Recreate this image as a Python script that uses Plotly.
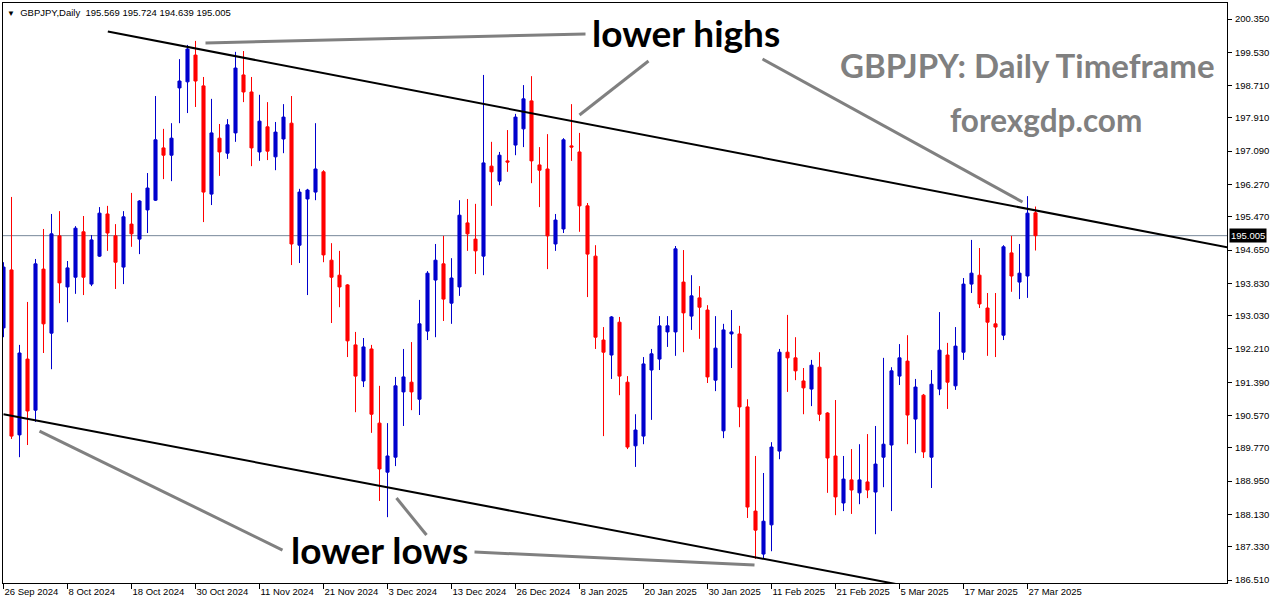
import plotly.graph_objects as go
import pandas as pd

# ---- data -------------------------------------------------------------
holidays = ["2024-12-25", "2025-01-01"]
dates = [d for d in pd.bdate_range("2024-09-26", "2025-03-28") if d.strftime("%Y-%m-%d") not in holidays]

opens = [192.73, 194.16, 190.09, 191.96, 190.70, 194.18, 192.60, 195.00, 193.74, 193.98,
         195.10, 193.81, 194.50, 195.54, 195.00, 194.23, 195.29, 194.92, 195.64, 195.88,
         197.17, 196.99, 198.65, 198.80, 199.46, 198.70, 196.03, 197.41, 197.04, 197.54,
         198.97, 198.55, 197.07, 197.69, 196.95, 197.39, 197.78, 194.77, 195.91, 196.08,
         196.58, 194.40, 194.03, 193.79, 192.31, 191.42, 192.21, 190.38, 189.17, 189.54,
         191.15, 191.39, 190.97, 192.65, 193.91, 194.31, 193.34, 193.74, 195.32, 194.92,
         194.50, 196.72, 196.35, 196.85, 197.24, 197.64, 198.33, 196.75, 196.65, 194.80,
         195.17, 197.22, 197.07, 195.74, 194.50, 192.43, 192.06, 192.87, 191.39, 189.82,
         190.06, 191.69, 191.96, 192.63, 192.63, 193.86, 193.02, 193.47, 193.17, 191.44,
         190.19, 192.58, 192.58, 190.78, 188.21, 187.15, 187.87, 189.69, 192.13, 191.99,
         191.42, 191.22, 191.76, 190.63, 189.57, 188.41, 188.98, 188.66, 188.93, 188.68,
         189.54, 189.84, 191.54, 191.91, 190.48, 191.07, 189.54, 191.22, 192.06, 191.30,
         192.13, 193.81, 194.03, 193.22, 192.83, 192.55, 194.58, 193.86, 194.01, 195.569]
highs = [194.35, 195.96, 192.31, 193.37, 194.43, 195.17, 195.54, 195.61, 194.38, 195.24,
         195.49, 195.02, 195.71, 195.74, 195.29, 195.61, 196.06, 195.88, 196.55, 198.45,
         197.64, 197.78, 199.36, 199.71, 199.81, 198.92, 198.38, 197.76, 197.88, 199.54,
         199.56, 198.92, 198.48, 198.30, 197.81, 198.25, 198.45, 196.16, 196.16, 197.78,
         196.62, 194.82, 194.63, 193.81, 192.63, 192.48, 192.31, 191.30, 190.38, 191.52,
         192.21, 192.38, 193.42, 194.13, 194.80, 195.00, 194.45, 195.88, 195.91, 195.79,
         198.97, 197.32, 197.07, 197.61, 198.01, 198.72, 198.94, 197.19, 197.51, 195.54,
         197.41, 198.25, 197.54, 195.81, 194.77, 192.75, 193.02, 193.00, 191.54, 190.60,
         192.01, 192.21, 193.02, 193.02, 194.75, 194.65, 194.03, 193.76, 193.29, 193.02,
         192.83, 193.17, 192.78, 190.97, 189.57, 189.15, 189.91, 192.21, 193.05, 192.50,
         191.74, 191.94, 192.13, 190.65, 190.95, 189.57, 189.74, 189.86, 190.11, 190.31,
         191.99, 191.76, 192.33, 192.55, 191.47, 191.10, 191.69, 193.12, 192.36, 192.75,
         193.96, 194.90, 194.70, 193.59, 193.59, 194.77, 195.00, 194.80, 195.98, 195.724]
lows = [192.50, 189.99, 189.54, 189.84, 190.41, 192.11, 191.71, 193.34, 192.87, 193.57,
        193.54, 193.76, 194.48, 194.63, 193.69, 193.81, 194.73, 194.55, 195.07, 195.86,
        196.40, 196.35, 197.78, 198.03, 198.18, 195.34, 195.76, 196.48, 196.90, 197.32,
        198.30, 196.72, 196.85, 196.87, 196.62, 197.04, 194.28, 194.33, 193.54, 195.88,
        194.35, 192.85, 193.24, 192.01, 190.65, 191.27, 190.14, 188.46, 188.06, 189.32,
        190.31, 190.70, 190.58, 192.43, 192.50, 192.90, 192.83, 193.52, 194.63, 194.06,
        194.03, 195.74, 196.25, 196.58, 196.99, 197.19, 196.30, 195.71, 194.18, 194.63,
        195.07, 196.85, 195.10, 193.49, 192.21, 190.06, 191.47, 191.07, 189.74, 189.30,
        189.86, 190.46, 191.69, 192.26, 192.04, 192.13, 192.68, 192.46, 191.37, 191.17,
        190.01, 191.74, 190.28, 188.04, 187.03, 187.03, 187.22, 189.49, 191.15, 191.44,
        190.60, 190.80, 190.43, 188.66, 188.11, 188.21, 188.14, 188.38, 188.53, 187.64,
        188.80, 188.21, 191.32, 189.86, 189.64, 189.52, 188.78, 191.07, 190.73, 191.20,
        191.94, 193.59, 193.22, 192.04, 192.01, 192.43, 193.62, 193.44, 193.47, 194.639]
closes = [194.23, 190.06, 192.11, 190.68, 194.31, 192.83, 195.05, 193.84, 194.21, 195.19,
          193.98, 194.90, 195.56, 195.07, 194.35, 195.47, 195.05, 195.86, 196.18, 197.37,
          196.99, 197.41, 198.82, 199.61, 198.82, 196.08, 197.54, 197.07, 197.74, 199.14,
          198.55, 197.17, 197.83, 197.09, 197.56, 197.93, 194.80, 196.08, 196.13, 196.65,
          194.53, 193.98, 193.74, 192.41, 191.54, 192.26, 190.60, 189.25, 189.57, 191.30,
          191.52, 191.15, 192.83, 194.08, 194.40, 193.44, 193.96, 195.51, 195.05, 194.63,
          196.80, 196.58, 196.99, 196.82, 197.93, 198.38, 196.85, 196.62, 195.00, 195.39,
          197.37, 197.19, 195.74, 194.55, 192.50, 192.13, 193.00, 191.54, 189.79, 190.21,
          191.84, 192.09, 192.78, 192.78, 194.68, 193.10, 193.52, 193.24, 191.52, 192.23,
          192.68, 192.63, 190.78, 188.31, 187.74, 187.96, 189.79, 192.13, 191.99, 191.67,
          191.25, 191.81, 190.60, 189.52, 188.56, 189.00, 188.73, 188.98, 188.73, 189.37,
          189.86, 191.67, 191.99, 190.58, 191.27, 189.67, 191.34, 192.18, 191.39, 192.28,
          193.81, 194.08, 193.32, 192.87, 192.75, 194.73, 194.01, 194.08, 195.56, 195.005]

price_ticks = [200.350, 199.530, 198.710, 197.910, 197.090, 196.270, 195.470, 194.650, 193.830,
               193.030, 192.210, 191.390, 190.570, 189.770, 188.950, 188.130, 187.330, 186.510]
last_price = 195.005
header = "GBPJPY,Daily\u00a0\u00a0195.569 195.724 194.639 195.005"

# trend lines (bar index, price)
upper_trend = [(13.04, 200.04), (153.0, 194.716)]
lower_trend = [(0.0, 190.598), (115.0, 186.282)]
# annotation pointers (bar index, price)
pointers = [
    [(25.25, 199.758), (72.75, 199.980)],
    [(80.625, 199.314), (72.0, 197.981)],
    [(94.875, 199.363), (127.375, 195.835)],
    [(4.5, 190.185), (34.875, 187.249)],
    [(49.125, 188.532), (52.875, 187.619)],
    [(58.875, 187.199), (93.875, 186.879)],
]
labels = [
    ("lower highs", 85.25, 200.02, "black", 37),
    ("lower lows", 47.06, 187.26, "black", 37),
    ("GBPJPY: Daily Timeframe", 128.06, 199.21, "#808080", 33),
    ("forexgdp.com", 130.25, 197.86, "#808080", 31.5),
]

# ---- figure -----------------------------------------------------------
idx = list(range(len(dates)))
X_RANGE = [-0.0625, 152.9375]
Y_RANGE = [186.436, 200.745]

fig = go.Figure()
fig.add_trace(go.Candlestick(
    x=idx, open=opens, high=highs, low=lows, close=closes,
    increasing=dict(line=dict(color="#0000CD", width=1), fillcolor="#0000CD"),
    decreasing=dict(line=dict(color="#FF0000", width=1), fillcolor="#FF0000"),
    whiskerwidth=0, showlegend=False, hoverinfo="skip",
))

shapes = []
shapes.append(dict(type="line", xref="paper", x0=0, x1=1, yref="y", y0=last_price, y1=last_price,
                   line=dict(color="#778899", width=1), layer="below"))
for (a, b) in [upper_trend, lower_trend]:
    shapes.append(dict(type="line", xref="x", yref="y", x0=a[0], y0=a[1], x1=b[0], y1=b[1],
                       line=dict(color="black", width=2)))
for (a, b) in pointers:
    shapes.append(dict(type="line", xref="x", yref="y", x0=a[0], y0=a[1], x1=b[0], y1=b[1],
                       line=dict(color="#808080", width=3)))

annotations = []
for text, xv, yv, col, sz in labels:
    annotations.append(dict(text=text, x=xv, y=yv, xref="x", yref="y", showarrow=False,
                            xanchor="center", yanchor="middle",
                            font=dict(family="Lato", size=sz, color=col, weight="bold")))
annotations.append(dict(text="<span style='font-size:8px'>\u25bc</span>\u00a0\u00a0" + header,
                        x=0, y=1, xref="paper", yref="paper", xanchor="left", yanchor="top",
                        xshift=2, yshift=-2, showarrow=False,
                        font=dict(family="Liberation Sans", size=9.5, color="black")))
annotations.append(dict(text=f"{last_price:.3f}", x=1, y=last_price, xref="paper", yref="y",
                        xanchor="left", yanchor="middle", xshift=2, showarrow=False,
                        bgcolor="black", borderpad=1,
                        font=dict(family="Liberation Sans", size=9.5, color="white")))

tick_idx = idx[::8]
tick_text = [f"{dates[i].day} {dates[i].strftime('%b %Y')}" for i in tick_idx]

fig.update_layout(
    width=1276, height=604,
    margin=dict(l=3, r=49, t=3, b=21, autoexpand=False),
    paper_bgcolor="white", plot_bgcolor="white",
    boxgap=0.45,
    shapes=shapes, annotations=annotations,
    hovermode=False,
    xaxis=dict(range=X_RANGE, showgrid=False, zeroline=False, showline=True, linecolor="black",
               linewidth=1, mirror=True, ticks="outside", ticklen=5, tickcolor="black",
               tickvals=tick_idx, ticktext=tick_text, ticklabelposition="outside right",
               tickangle=0, automargin=False,
               tickfont=dict(family="Liberation Sans", size=9.5, color="black"),
               rangeslider=dict(visible=False), fixedrange=True),
    yaxis=dict(range=Y_RANGE, side="right", showgrid=False, zeroline=False, showline=True,
               linecolor="black", linewidth=1, mirror=True, ticks="outside", ticklen=4,
               tickcolor="black", tickvals=price_ticks, ticktext=[f"{v:.3f}" for v in price_ticks],
               automargin=False, ticklabelstandoff=1,
               tickfont=dict(family="Liberation Sans", size=9.5, color="black"), fixedrange=True),
)

fig.write_html("out.html", config={"displayModeBar": False},
               post_script="document.body.style.margin='0';document.body.style.overflow='hidden';")
